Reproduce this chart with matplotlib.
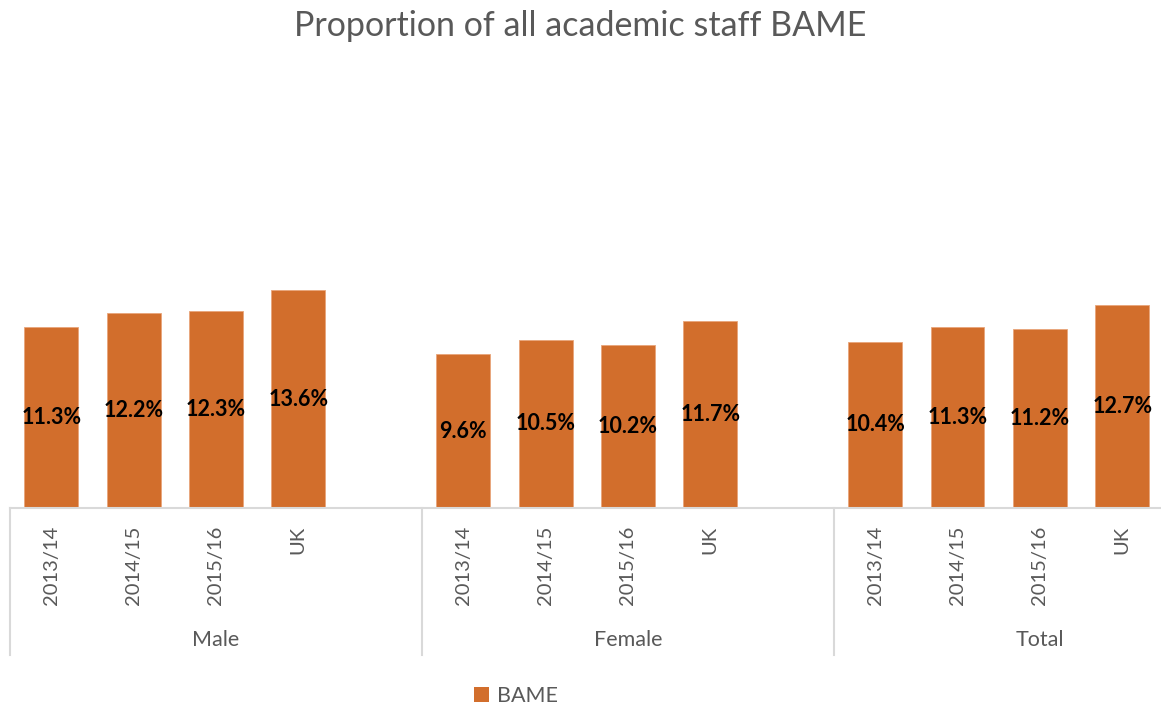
import numpy as np
import matplotlib.pyplot as plt
import matplotlib.transforms as mtransforms
from matplotlib.patches import Patch

plt.rcParams['font.family'] = ['Lato', 'DejaVu Sans']

# data
groups = ["Male", "Female", "Total"]
periods = ["2013/14", "2014/15", "2015/16", "UK"]
male = [11.3, 12.2, 12.3, 13.6]
female = [9.6, 10.5, 10.2, 11.7]
total = [10.4, 11.3, 11.2, 12.7]

bar_color = "#D26E2C"
text_grey = "#595959"
line_grey = "#D9D9D9"

# each group takes 5 slots (4 bars + 1 gap), last group has no trailing gap
values = male + female + total
positions = [g * 5 + i for g in range(3) for i in range(4)]
labels = periods * 3

fig = plt.figure(figsize=(11.61, 7.07), dpi=100)
ax = fig.add_axes([10 / 1161, 1 - 508 / 707, 1 - 10 / 1161, 400 / 707])

bars = ax.bar(positions, values, width=0.655, color=bar_color,
              edgecolor="#E8A57A", linewidth=0.6)

for x, v in zip(positions, values):
    ax.text(x, v / 2, f"{v:.1f}%", ha="center", va="center",
            fontsize=15.5, fontweight="bold", color="black")

ax.set_xlim(-0.5, 13.47)
ax.set_ylim(0, 25)
ax.set_yticks([])
ax.set_xticks(positions)
ax.set_xticklabels(labels, rotation=90, fontsize=14.5, color=text_grey)
ax.tick_params(axis="x", length=0, pad=13)

for side in ["top", "right", "left"]:
    ax.spines[side].set_visible(False)
ax.spines["bottom"].set_color(line_grey)
ax.spines["bottom"].set_linewidth(1.5)

# group separators and group names under the axis
trans = mtransforms.blended_transform_factory(ax.transData, ax.transAxes)
for g, name in enumerate(groups):
    x0 = g * 5 - 0.5
    ax.plot([x0, x0], [0, -147 / 400], transform=trans, color=line_grey,
            linewidth=1.5, clip_on=False)
    ax.text(g * 5 + 2, -132 / 400, name, transform=trans, ha="center",
            va="center", fontsize=15.5, color=text_grey)

fig.text(0.5, 1 - 26 / 707, "Proportion of all academic staff BAME",
         ha="center", va="center", fontsize=24.5, color=text_grey)

fig.legend(handles=[Patch(facecolor=bar_color, label="BAME")],
           loc="center", bbox_to_anchor=(516 / 1161, 11 / 707), frameon=False,
           fontsize=15.5, labelcolor=text_grey, handlelength=0.7,
           handleheight=0.7, handletextpad=0.4)

fig.savefig("out.png", dpi=100)
